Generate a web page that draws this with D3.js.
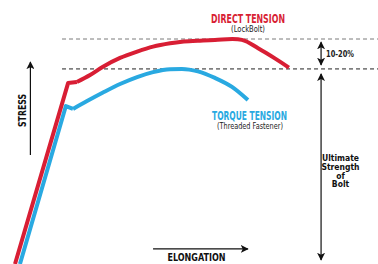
<!DOCTYPE html>
<html>
<head>
<meta charset="utf-8">
<script src="https://cdn.jsdelivr.net/npm/d3@7"></script>
<style>
  body { margin: 0; background: #fff; }
  svg { display: block; }
  .bold { font-family: "Liberation Sans Narrow", "DejaVu Sans Condensed", "Liberation Sans", sans-serif; font-weight: bold; }
  .thin { font-family: "Liberation Sans Narrow", "DejaVu Sans Condensed", "Liberation Sans", sans-serif; }
</style>
</head>
<body>
<div id="chart"></div>
<script>
// elongation / stress in relative units (0-100)
var directElong  = [0, 19.3, 22.5, 27.3, 32.0, 38.2, 44.4, 50.2, 56.4, 60.7, 66.5, 72.7, 82.5, 88.4, 94.5, 99.6];
var directStress = [0, 80.4, 80.9, 84.0, 87.7, 91.6, 94.4, 96.6, 98.1, 98.8, 99.2, 99.6, 99.6, 95.9, 91.4, 87.3];
var torqueElong  = [1.8, 18.5, 21.1, 26.2, 32.0, 38.2, 44.4, 50.2, 56.4, 60.7, 66.5, 72.7, 78.9, 84.7];
var torqueStress = [0, 70.2, 68.9, 72.4, 76.2, 80.0, 83.1, 85.3, 86.6, 86.7, 85.6, 82.7, 78.7, 72.9];
// number of points in the straight (elastic) part, incl. the kink
var elasticPts = 3;
var levels = [100, 86.7];  // ultimate strength of direct / torque tension

var W = 378, H = 264;
var red = "#d81e34", blue = "#29a9e1";

var x = d3.scaleLinear().domain([0, 100]).range([15, 290]);
var y = d3.scaleLinear().domain([0, 100]).range([264, 39]);

var svg = d3.select("#chart").append("svg")
    .attr("width", W)
    .attr("height", H);

var defs = svg.append("defs");
defs.append("marker")
    .attr("id", "head")
    .attr("viewBox", "0 0 10 10")
    .attr("refX", 9).attr("refY", 5)
    .attr("markerWidth", 8).attr("markerHeight", 8)
    .attr("markerUnits", "userSpaceOnUse")
    .attr("orient", "auto-start-reverse")
  .append("path")
    .attr("d", "M0,0 L10,5 L0,10 L2.5,5 Z")
    .attr("fill", "#111");

// reference levels
svg.selectAll(".level")
    .data(levels).enter()
    .append("line")
    .attr("x1", x(17.1)).attr("x2", W)
    .attr("y1", function(d) { return y(d); })
    .attr("y2", function(d) { return y(d); })
    .attr("stroke", function(d, i) { return i == 0 ? "#7a7a7a" : "#222"; })
    .attr("stroke-width", 1)
    .attr("stroke-dasharray", "4,3");

function drawCurve(elong, stress, color, curve) {
  var pts = elong.map(function(e, i) { return [e, stress[i]]; });
  var straight = d3.line()
      .x(function(d) { return x(d[0]); })
      .y(function(d) { return y(d[1]); });
  var smooth = d3.line()
      .x(function(d) { return x(d[0]); })
      .y(function(d) { return y(d[1]); })
      .curve(curve);
  svg.append("path")
      .attr("d", straight(pts.slice(0, elasticPts)))
      .attr("fill", "none").attr("stroke", color)
      .attr("stroke-width", 4).attr("stroke-linejoin", "round");
  svg.append("path")
      .attr("d", smooth(pts.slice(elasticPts - 1)))
      .attr("fill", "none").attr("stroke", color)
      .attr("stroke-width", 4).attr("stroke-linejoin", "round");
}
drawCurve(torqueElong, torqueStress, blue, d3.curveMonotoneX);
drawCurve(directElong, directStress, red, d3.curveCatmullRom.alpha(0.5));

// arrows
function arrow(x1, y1, x2, y2, both) {
  var l = svg.append("line")
      .attr("x1", x1).attr("y1", y1).attr("x2", x2).attr("y2", y2)
      .attr("stroke", "#111").attr("stroke-width", 1.2)
      .attr("marker-end", "url(#head)");
  if (both) l.attr("marker-start", "url(#head)");
}
arrow(x(5.6), y(48.4), x(5.6), y(89.8));            // stress
arrow(x(50.2), y(6.7), x(84.7), y(6.7));            // elongation
arrow(x(111.3), y(98.6), x(111.3), y(88.5), true);  // 10-20%
arrow(x(111.3), y(84.5), x(111.3), y(1.8), true);   // ultimate

// labels
svg.append("text").attr("class", "bold")
    .attr("x", 248).attr("y", 23).attr("text-anchor", "middle")
    .attr("font-size", 11.5).attr("fill", red)
    .attr("textLength", 74).attr("lengthAdjust", "spacingAndGlyphs")
    .text("DIRECT TENSION");
svg.append("text").attr("class", "thin")
    .attr("x", 248).attr("y", 32).attr("text-anchor", "middle")
    .attr("font-size", 8).attr("fill", "#222")
    .attr("textLength", 34).attr("lengthAdjust", "spacingAndGlyphs")
    .text("(LockBolt)");
svg.append("text").attr("class", "bold")
    .attr("x", 249.5).attr("y", 120).attr("text-anchor", "middle")
    .attr("font-size", 11.5).attr("fill", blue)
    .attr("textLength", 75).attr("lengthAdjust", "spacingAndGlyphs")
    .text("TORQUE TENSION");
svg.append("text").attr("class", "thin")
    .attr("x", 250).attr("y", 129).attr("text-anchor", "middle")
    .attr("font-size", 8).attr("fill", "#222")
    .attr("textLength", 66).attr("lengthAdjust", "spacingAndGlyphs")
    .text("(Threaded Fastener)");
svg.append("text").attr("class", "bold")
    .attr("x", 326).attr("y", 57)
    .attr("font-size", 8.5).attr("fill", "#222")
    .attr("textLength", 28).attr("lengthAdjust", "spacingAndGlyphs")
    .text("10-20%");

var ult = ["Ultimate", "Strength", "of", "Bolt"];
svg.selectAll(".ult")
    .data(ult).enter()
    .append("text").attr("class", "bold")
    .attr("x", 340.5)
    .attr("y", function(d, i) { return 161 + i * 8.8; })
    .attr("text-anchor", "middle")
    .attr("font-size", 8.5).attr("fill", "#111")
    .text(function(d) { return d; });

svg.append("text").attr("class", "bold")
    .attr("transform", "translate(26,110.5) rotate(-90)")
    .attr("text-anchor", "middle")
    .attr("font-size", 11).attr("fill", "#111")
    .attr("textLength", 33).attr("lengthAdjust", "spacingAndGlyphs")
    .text("STRESS");
svg.append("text").attr("class", "bold")
    .attr("x", 196.5).attr("y", 261).attr("text-anchor", "middle")
    .attr("font-size", 10).attr("fill", "#111")
    .attr("textLength", 58).attr("lengthAdjust", "spacingAndGlyphs")
    .text("ELONGATION");
</script>
</body>
</html>
